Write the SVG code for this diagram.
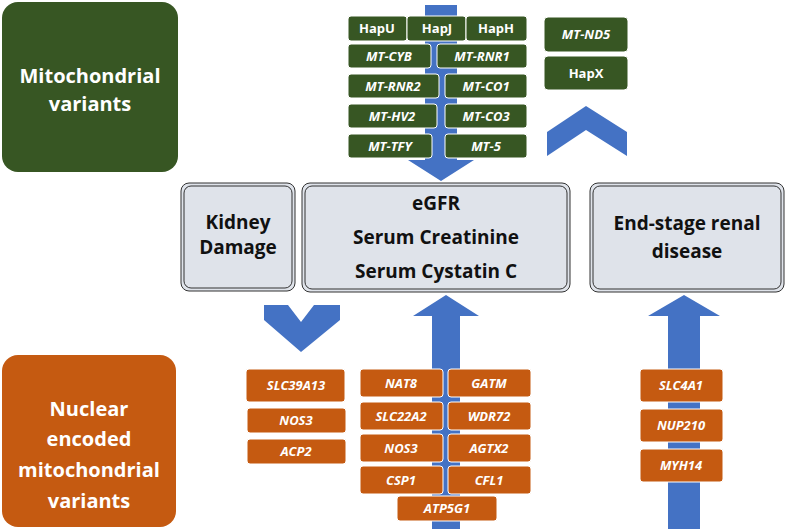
<svg xmlns="http://www.w3.org/2000/svg" width="786" height="529" viewBox="0 0 786 529">
<style>
text{font-family:"Open Sans","Liberation Sans",sans-serif;font-weight:bold;text-anchor:middle}
.g{fill:#375623;stroke:#fff;stroke-width:1}
.o{fill:#C55A11;stroke:#fff;stroke-width:1}
.w{fill:#fff;font-size:13px}
.i{font-style:italic}
.c{fill:#dfe3ea;stroke:#333;stroke-width:1}
.ci{fill:none;stroke:#333;stroke-width:1}
.b{font-size:19px;fill:#111}
.a{fill:#4472C4}
</style>
<g id="connectors">
<path class="a" d="M425 5H457V160H474L441 181L408 160H425Z"/>
<path class="a" d="M547 132L586 106L627 132L627 156L586 130L547 156Z"/>
<path class="a" d="M264 305L288 305L301 322L314 305L340 305L340 320L301 352L264 320Z"/>
<path class="a" d="M432 529V316H413L446 295L479 316H460V529Z"/>
<path class="a" d="M668 529V316H648L684 295L720 316H700V529Z"/>
</g>
<g id="mito"><rect x="2" y="2" width="176" height="170" rx="16" fill="#375623"/><text class="w" x="90" y="83" style="font-size:20px">Mitochondrial</text><text class="w" x="90" y="111" style="font-size:20px">variants</text></g>
<g id="nuclear"><rect x="2" y="355" width="174" height="172" rx="16" fill="#C55A11"/><text class="w" x="89" y="416" style="font-size:20px">Nuclear</text><text class="w" x="89" y="446" style="font-size:20px">encoded</text><text class="w" x="89" y="477" style="font-size:20px">mitochondrial</text><text class="w" x="89" y="508" style="font-size:20px">variants</text></g>
<g id="mt-genes">
<rect class="g" x="348" y="16" width="59" height="25" rx="3"/><text class="w" x="377" y="33">HapU</text>
<rect class="g" x="407" y="16" width="59" height="25" rx="3"/><text class="w" x="437" y="33">HapJ</text>
<rect class="g" x="466" y="16" width="61" height="25" rx="3"/><text class="w" x="496" y="33">HapH</text>
<rect class="g" x="348" y="44" width="83" height="24" rx="3"/><text class="w i" x="389" y="61">MT-CYB</text>
<rect class="g" x="437" y="44" width="90" height="24" rx="3"/><text class="w i" x="482" y="61">MT-RNR1</text>
<rect class="g" x="348" y="74" width="91" height="24" rx="3"/><text class="w i" x="393" y="91">MT-RNR2</text>
<rect class="g" x="445" y="74" width="82" height="24" rx="3"/><text class="w i" x="486" y="91">MT-CO1</text>
<rect class="g" x="348" y="104" width="89" height="24" rx="3"/><text class="w i" x="392" y="121">MT-HV2</text>
<rect class="g" x="445" y="104" width="82" height="24" rx="3"/><text class="w i" x="486" y="121">MT-CO3</text>
<rect class="g" x="348" y="134" width="84" height="24" rx="3"/><text class="w i" x="390" y="151">MT-TFY</text>
<rect class="g" x="445" y="134" width="82" height="24" rx="3"/><text class="w i" x="486" y="151">MT-5</text>
<rect class="g" x="544" y="17" width="84" height="35" rx="4"/><text class="w i" x="586" y="39">MT-ND5</text>
<rect class="g" x="544" y="56" width="84" height="34" rx="4"/><text class="w" x="586" y="78">HapX</text>
</g>
<g id="kidney"><rect class="c" x="181" y="183" width="114" height="108" rx="8"/><rect class="ci" x="184" y="186" width="108" height="102" rx="7"/><text class="b" x="238" y="229">Kidney</text><text class="b" x="238" y="254">Damage</text></g>
<g id="egfr"><rect class="c" x="302" y="183" width="268" height="109" rx="8"/><rect class="ci" x="305" y="186" width="262" height="103" rx="7"/><text class="b" x="436" y="210">eGFR</text><text class="b" x="436" y="244">Serum Creatinine</text><text class="b" x="436" y="278">Serum Cystatin C</text></g>
<g id="esrd"><rect class="c" x="590" y="183" width="194" height="109" rx="8"/><rect class="ci" x="593" y="186" width="188" height="103" rx="7"/><text class="b" x="687" y="230">End-stage renal</text><text class="b" x="687" y="258">disease</text></g>
<g id="nuc-genes">
<rect class="o" x="246" y="369" width="99" height="33" rx="3"/><text class="w i" x="296" y="390">SLC39A13</text>
<rect class="o" x="247" y="408" width="99" height="25" rx="3"/><text class="w i" x="296" y="425">NOS3</text>
<rect class="o" x="247" y="439" width="99" height="25" rx="3"/><text class="w i" x="296" y="456">ACP2</text>
<rect class="o" x="360" y="369" width="83" height="28" rx="3"/><text class="w i" x="401" y="388">NAT8</text>
<rect class="o" x="448" y="369" width="83" height="28" rx="3"/><text class="w i" x="489" y="388">GATM</text>
<rect class="o" x="360" y="402" width="83" height="28" rx="3"/><text class="w i" x="401" y="421">SLC22A2</text>
<rect class="o" x="448" y="402" width="83" height="28" rx="3"/><text class="w i" x="489" y="421">WDR72</text>
<rect class="o" x="360" y="434" width="83" height="28" rx="3"/><text class="w i" x="401" y="453">NOS3</text>
<rect class="o" x="448" y="434" width="83" height="28" rx="3"/><text class="w i" x="489" y="453">AGTX2</text>
<rect class="o" x="360" y="466" width="83" height="28" rx="3"/><text class="w i" x="401" y="485">CSP1</text>
<rect class="o" x="448" y="466" width="83" height="28" rx="3"/><text class="w i" x="489" y="485">CFL1</text>
<rect class="o" x="397" y="496" width="100" height="25" rx="3"/><text class="w i" x="447" y="513">ATP5G1</text>
<rect class="o" x="640" y="369" width="83" height="33" rx="3"/><text class="w i" x="681" y="390">SLC4A1</text>
<rect class="o" x="640" y="409" width="83" height="33" rx="3"/><text class="w i" x="681" y="430">NUP210</text>
<rect class="o" x="640" y="449" width="83" height="33" rx="3"/><text class="w i" x="681" y="470">MYH14</text>
</g>
</svg>
